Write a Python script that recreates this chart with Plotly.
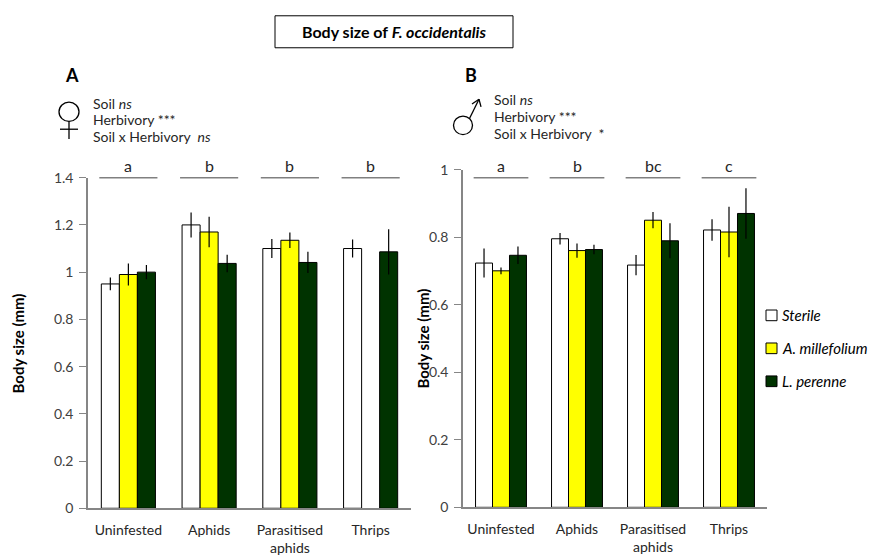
import plotly.graph_objects as go

W, H = 877, 557
FONT = "Lato"

categories = ["Uninfested", "Aphids", "Parasitised<br>aphids", "Thrips"]
series_names = ["Sterile", "A. millefolium", "L. perenne"]
series_colors = ["#FFFFFF", "#FFFF00", "#003300"]

# Panel A: females
female_vals = [
    [0.95, 1.20, 1.10, 1.10],
    [0.99, 1.17, 1.135, None],
    [1.00, 1.037, 1.041, 1.086],
]
female_err = [
    [0.027, 0.053, 0.04, 0.038],
    [0.047, 0.065, 0.033, None],
    [0.03, 0.037, 0.045, 0.096],
]
female_letters = ["a", "b", "b", "b"]

# Panel B: males
male_vals = [
    [0.724, 0.796, 0.718, 0.822],
    [0.701, 0.761, 0.851, 0.816],
    [0.747, 0.764, 0.790, 0.871],
]
male_err = [
    [0.043, 0.017, 0.03, 0.032],
    [0.01, 0.021, 0.024, 0.075],
    [0.026, 0.014, 0.052, 0.075],
]
male_letters = ["a", "b", "bc", "c"]

y_ticks_a = [0, 0.2, 0.4, 0.6, 0.8, 1.0, 1.2, 1.4]
y_ticks_b = [0, 0.2, 0.4, 0.6, 0.8, 1.0]

stat_a = ["Soil <i>ns</i>", "Herbivory ***", "Soil x Herbivory  <i>ns</i>"]
stat_b = ["Soil <i>ns</i>", "Herbivory ***", "Soil x Herbivory  *"]


def px(x):
    return x / W


def py(y):
    return 1 - y / H


fig = go.Figure()
for vals, errs, xa, ya in [(female_vals, female_err, "x", "y"),
                           (male_vals, male_err, "x2", "y2")]:
    for i, name in enumerate(series_names):
        fig.add_trace(
            go.Bar(
                x=categories,
                y=vals[i],
                name=name,
                xaxis=xa,
                yaxis=ya,
                marker=dict(color=series_colors[i], line=dict(color="#000000", width=1)),
                error_y=dict(type="data", array=errs[i], visible=True,
                             color="#000000", thickness=1.2, width=0),
                showlegend=False,
            )
        )

axis_common = dict(showgrid=False, zeroline=False, showline=True,
                   linecolor="#868686", linewidth=1.5)
fig.update_layout(
    width=W, height=H,
    margin=dict(l=0, r=0, t=0, b=0),
    paper_bgcolor="white", plot_bgcolor="white",
    barmode="group", bargap=0.33, bargroupgap=0,
    font=dict(family=FONT, size=12, color="#262626"),
    xaxis=dict(domain=[px(88), px(411)], anchor="y", ticks="",
               tickfont=dict(size=14), ticklabelstandoff=8, **axis_common),
    yaxis=dict(domain=[py(515), py(174)], anchor="x", range=[0, 1.4],
               tickvals=y_ticks_a, ticktext=[f"{v:g}" for v in y_ticks_a],
               ticks="outside", ticklen=7, tickcolor="#868686",
               tickfont=dict(size=14, color="#404040"), ticklabelstandoff=3,
               **axis_common),
    xaxis2=dict(domain=[px(463), px(767)], anchor="y2", ticks="",
                tickfont=dict(size=14), ticklabelstandoff=8, **axis_common),
    yaxis2=dict(domain=[py(514), py(166)], anchor="x2", range=[0, 1.0],
                tickvals=y_ticks_b, ticktext=[f"{v:g}" for v in y_ticks_b],
                ticks="outside", ticklen=7, tickcolor="#868686",
                tickfont=dict(size=14, color="#404040"), ticklabelstandoff=3,
                **axis_common),
)

shapes = []
annots = []


def note(x, y, text, size, color="#262626", xanchor="center", family=None, angle=0):
    f = dict(size=size, color=color)
    if family:
        f["family"] = family
    annots.append(dict(xref="paper", yref="paper", x=px(x), y=py(y), text=text,
                       xanchor=xanchor, yanchor="middle", showarrow=False,
                       textangle=angle, font=f))


def line(x0, y0, x1, y1, width=1.3, color="#000000"):
    shapes.append(dict(type="line", xref="paper", yref="paper",
                       x0=px(x0), y0=py(y0), x1=px(x1), y1=py(y1),
                       line=dict(color=color, width=width)))


def circle(cx, cy, r, width=1.3):
    shapes.append(dict(type="circle", xref="paper", yref="paper",
                       x0=px(cx - r), x1=px(cx + r), y0=py(cy + r), y1=py(cy - r),
                       line=dict(color="#000000", width=width)))


# Title box
shapes.append(dict(type="rect", xref="paper", yref="paper",
                   x0=px(275), x1=px(513), y0=py(40), y1=py(7),
                   line=dict(color="#000000", width=1)))
note(394, 23, "<b>Body size of <i>F. occidentalis</i></b>", 16, "#000000")

# Panel labels
note(72, 68, "<b>A</b>", 18, "#000000")
note(471, 68, "<b>B</b>", 18, "#000000")

# Female symbol
circle(69, 106, 10)
line(69, 116, 69, 134)
line(60, 124, 78, 124)
# Male symbol
circle(463, 120, 9.5)
line(469.5, 113, 479, 93)
line(479, 93, 472, 98)
line(479, 93, 481, 101)

# Stats text
for j, (ya, yb) in enumerate(zip([97, 114, 131], [93, 111, 128])):
    note(91, ya, stat_a[j], 14, xanchor="left")
    note(492, yb, stat_b[j], 14, xanchor="left")

# Significance letters and lines
for xref, letters in [("x", female_letters), ("x2", male_letters)]:
    for i, letter in enumerate(letters):
        shapes.append(dict(type="line", xref=xref, yref="paper",
                           x0=i - 0.36, x1=i + 0.36, y0=py(174), y1=py(174),
                           line=dict(color="#808080", width=1.5)))
        annots.append(dict(xref=xref, yref="paper", x=i, y=py(161), text=letter,
                           yanchor="middle", showarrow=False,
                           font=dict(size=16, color="#262626")))

# Y-axis titles
note(18, 345, "<b>Body size (mm)</b>", 15, "#000000", angle=-90)
note(423, 340, "<b>Body size (mm)</b>", 15, "#000000", angle=-90)

# Manual legend
for k, (name, col) in enumerate(zip(series_names, series_colors)):
    yc = [316, 350, 384][k]
    shapes.append(dict(type="rect", xref="paper", yref="paper",
                       x0=px(766), x1=px(777), y0=py(yc + 5.5), y1=py(yc - 5.5),
                       fillcolor=col, line=dict(color="#000000", width=1)))
    note(780, yc, f"<i>{name}</i>", 15, "#000000", xanchor="left")

fig.update_layout(shapes=shapes, annotations=annots)
fig.write_html("out.html")
